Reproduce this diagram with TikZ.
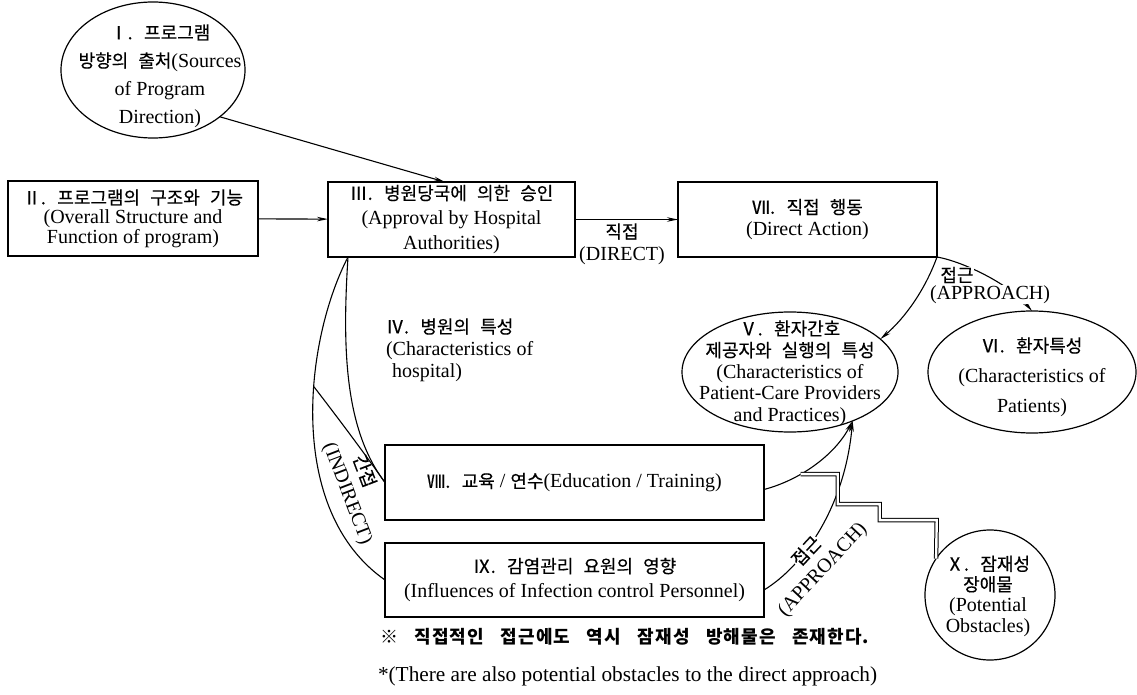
\documentclass[tikz,border=0pt]{standalone}
\usepackage{fontspec}
\setmainfont{Liberation Serif}
\newfontfamily\kr[Scale=0.9,WordSpace=2.5,FakeBold=0.4]{Noto Sans CJK KR}
\newfontfamily\krw[Scale=0.9,WordSpace=3.2,LetterSpace=6]{Noto Sans CJK KR}
\newcommand\K[1]{{\kr #1}}
\usetikzlibrary{arrows.meta,shapes.geometric}
\begin{document}
\begin{tikzpicture}[x=1pt,y=-1pt,
  every node/.style={inner sep=0pt,outer sep=0pt},
  lbl/.style={font={\fontsize{20}{#1}\selectfont},align=center},
  lbl/.default=22,
  box/.style={draw,line width=1.2pt},
  ell/.style={draw,ellipse,line width=1.2pt},
  ln/.style={line width=1.1pt},
  arr/.style={line width=1.1pt,-{Stealth[length=11pt,width=4.5pt]}},
  dbl/.style={double,double distance=2.4pt,line width=1pt},
  wl/.style={fill=white,inner sep=0.3pt}]
\useasboundingbox (0,0) rectangle (1137,695);

% boxes
\node[box,lbl=19.5,minimum width=250pt,minimum height=75pt] (II) at (133,218.5)
  {\K{Ⅱ. 프로그램의 구조와 기능}\\(Overall Structure and\\Function of program)};
\node[box,lbl=25,minimum width=247pt,minimum height=75pt] (III) at (451.5,219.5)
  {\K{Ⅲ. 병원당국에 의한 승인}\\(Approval by Hospital\\Authorities)};
\node[box,lbl=22,minimum width=259pt,minimum height=75pt] (VII) at (807.5,219.5)
  {\K{Ⅶ. 직접 행동}\\(Direct Action)};
\node[box,lbl,minimum width=379pt,minimum height=75pt] (VIII) at (574.5,482.5)
  {\K{Ⅷ. 교육} / \K{연수}(Education / Training)};
\node[box,lbl=25,minimum width=379pt,minimum height=74pt] (IX) at (574.5,580)
  {\K{Ⅸ. 감염관리 요원의 영향}\\(Influences of Infection control Personnel)};

% ellipses
\node[ell,minimum width=184pt,minimum height=136pt] (I) at (153,70) {};
\node[lbl=28] (Itxt) at (160,76) {\K{Ⅰ. 프로그램}\\\K{방향의 출처}(Sources\\of Program\\Direction)};
\node[ell,minimum width=216pt,minimum height=120pt] (V) at (790,372) {};
\node[lbl=21.5] (Vtxt) at (790,373) {\K{Ⅴ. 환자간호}\\\K{제공자와 실행의 특성}\\(Characteristics of\\Patient-Care Providers\\and Practices)};
\node[ell,minimum width=208pt,minimum height=122pt] (VI) at (1032,372) {};
\node[lbl=30] (VItxt) at (1032,377) {\K{Ⅵ. 환자특성}\\(Characteristics of\\Patients)};
\node[draw,circle,line width=1.2pt,minimum size=130pt] (X) at (990,595) {};
\node[lbl=20.5] (Xtxt) at (988,596) {\K{Ⅹ. 잠재성}\\\K{장애물}\\(Potential\\Obstacles)};

% label IV
\node[lbl=22,align=left,anchor=west] (IV) at (386,350)
  {\K{Ⅳ. 병원의 특성}\\(Characteristics of\\\hspace*{6pt}hospital)};

% straight arrows
\draw[arr] (I.-35) -- ([xshift=-6.5pt]III.north);
\draw[arr] (II) -- (III);
\draw[arr] (III) -- (VII);
\node[lbl=22] (direct) at (622,244) {\K{직접}\\(DIRECT)};

% indirect curves
\draw[ln] ([xshift=20pt]III.south west) .. controls (305,340) and (285,510) .. (IX.west)
  coordinate[pos=0.4] (Abr);
\draw[ln] ([xshift=20pt]III.south west) .. controls (342,350) and (345,430) .. (VIII.west);
\draw[ln] (Abr) .. controls (338,418) and (362,450) .. (VIII.west);
\node[lbl,rotate=-69] (indir) at (347,494) {(INDIRECT)};
\node[lbl,rotate=-69] (ganj) at (365,471) {\K{간접}};

% approach curves
\draw[arr] (VII.south east) .. controls (925,290) and (905,318) .. (V.20);
\draw[arr] (VII.south east) .. controls (965,262) and (1010,285) .. (VI.north);
\draw[arr] ([yshift=-7pt]VIII.east) .. controls (800,480) and (835,455) .. (V.-38)
  coordinate[pos=0.35] (obs0);
\draw[arr] ([yshift=-10pt]IX.east) .. controls (805,565) and (845,505) .. (V.-38);
\node[lbl,wl] (ap1e) at (990,294.5) {(APPROACH)};
\node[lbl,wl] (ap1k) at (957,275) {\K{접근}};
\node[lbl,wl,rotate=47] (ap2k) at (806,551) {\K{접근}};
\node[lbl,rotate=47] (ap2e) at (823,570) {(APPROACH)};

% obstacle double line
\draw[dbl] (obs0) -- ++(37,0) -- ++(0,30) -- ++(42,0) -- ++(0,16) -- ++(57,0) -- (X.146);

% footnote
\node[anchor=west,font={\fontsize{20}{20}\selectfont}] (fn1) at (380,637)
  {{\krw\bfseries ※ 직접적인 접근에도 역시 잠재성 방해물은 존재한다.}};
\node[anchor=west,font={\fontsize{21.3}{21}\selectfont}] (fn2) at (378,676)
  {*(There are also potential obstacles to the direct approach)};
\end{tikzpicture}
\end{document}
